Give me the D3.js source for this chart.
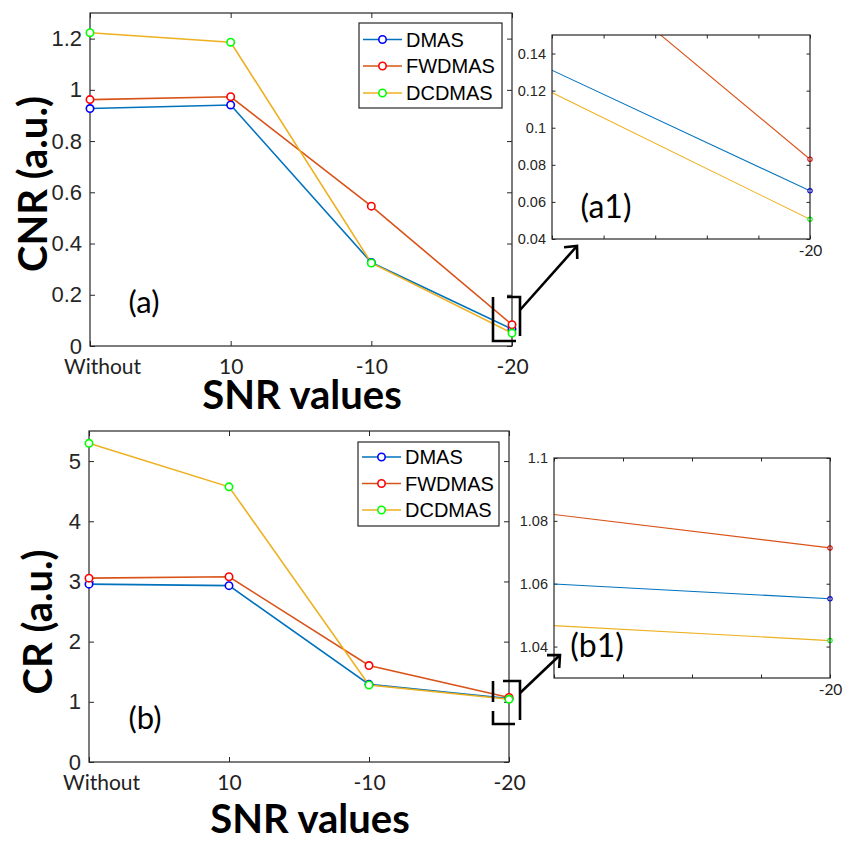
<!DOCTYPE html>
<html>
<head>
<meta charset="utf-8">
<script src="https://cdn.jsdelivr.net/npm/d3@7"></script>
<style>
  html, body { margin: 0; padding: 0; background: #fff; }
  svg { display: block; }
</style>
</head>
<body>
<script>
// ---------------- DATA ----------------
const categories = ["Without", "10", "-10", "-20"];
const seriesNames = ["DMAS", "FWDMAS", "DCDMAS"];

// Panel (a): CNR
const cnrDMAS   = [0.927, 0.941, 0.326, 0.066];
const cnrFWDMAS = [0.962, 0.973, 0.546, 0.083];
const cnrDCDMAS = [1.223, 1.186, 0.324, 0.0506];
const cnrTicks  = [0, 0.2, 0.4, 0.6, 0.8, 1, 1.2];
const cnrZoomTicks = [0.04, 0.06, 0.08, 0.1, 0.12, 0.14];

// Panel (b): CR
const crDMAS   = [2.955, 2.93, 1.29, 1.0552];
const crFWDMAS = [3.055, 3.078, 1.603, 1.0714];
const crDCDMAS = [5.295, 4.572, 1.28, 1.0419];
const crTicks  = [0, 1, 2, 3, 4, 5];
const crZoomTicks = [1.04, 1.06, 1.08, 1.1];

// ---------------- STYLE ----------------
const lineColors   = ["#0072BD", "#D95319", "#EDB120"];
const markerColors = ["#0000FF", "#FF0000", "#00FF00"];
const axisColor = "#262626";
const tickFont = "'Liberation Sans', Arial, Helvetica, sans-serif";
const labelFont = "Lato, 'Open Sans', sans-serif";

const W = 843, H = 844;
const svg = d3.select("body").append("svg")
  .attr("width", W).attr("height", H)
  .attr("viewBox", `0 0 ${W} ${H}`);

const fmt = d => String(+d.toFixed(3));

function drawBox(g, x0, x1, y0, y1) {
  g.append("rect")
    .attr("x", x0).attr("y", y0)
    .attr("width", x1 - x0).attr("height", y1 - y0)
    .attr("fill", "none").attr("stroke", axisColor).attr("stroke-width", 1.2);
}

function styleAxis(sel) {
  sel.select(".domain").remove();
  sel.selectAll(".tick line").attr("stroke", axisColor).attr("stroke-width", 1);
}

function drawPanel(cfg) {
  const g = svg.append("g");
  const { x0, x1, y0, y1 } = cfg.box;
  const x = d3.scaleLinear().domain([0, categories.length - 1]).range([x0, x1]);
  const y = d3.scaleLinear().domain(cfg.yDomain).range([y1, y0]);
  const data = cfg.series;

  // axes (ticks inside)
  const tl = 5;
  const left = g.append("g").attr("transform", `translate(${x0},0)`)
    .call(d3.axisLeft(y).tickValues(cfg.yTicks).tickSize(-tl).tickPadding(8).tickFormat(fmt));
  styleAxis(left);
  left.selectAll("text").attr("font-family", tickFont).attr("font-size", cfg.yTickSize).attr("fill", axisColor);

  const right = g.append("g").attr("transform", `translate(${x1},0)`)
    .call(d3.axisRight(y).tickValues(cfg.yTicks).tickSize(-tl).tickFormat(""));
  styleAxis(right);

  const idx = categories.map((c, i) => i);
  const bottom = g.append("g").attr("transform", `translate(0,${y1})`)
    .call(d3.axisBottom(x).tickValues(idx).tickSize(-tl).tickPadding(13).tickFormat(i => categories[i]));
  styleAxis(bottom);
  bottom.selectAll("text").attr("font-family", labelFont).attr("font-size", 21).attr("fill", "#222")
    .attr("dx", i => i === 0 ? 12 : 0);

  const top = g.append("g").attr("transform", `translate(0,${y0})`)
    .call(d3.axisTop(x).tickValues(idx).tickSize(-tl).tickFormat(""));
  styleAxis(top);

  drawBox(g, x0, x1, y0, y1);

  // lines + markers
  const line = d3.line().x((d, i) => x(i)).y(d => y(d));
  data.forEach((vals, s) => {
    g.append("path").datum(vals)
      .attr("d", line).attr("fill", "none")
      .attr("stroke", lineColors[s]).attr("stroke-width", 1.6);
  });
  data.forEach((vals, s) => {
    g.selectAll(null).data(vals).enter().append("circle")
      .attr("cx", (d, i) => x(i)).attr("cy", d => y(d)).attr("r", 3.7)
      .attr("fill", "#fff").attr("stroke", markerColors[s]).attr("stroke-width", 1.6);
  });

  // legend
  const L = cfg.legend;
  g.append("rect").attr("x", L.x0).attr("y", L.y0)
    .attr("width", L.x1 - L.x0).attr("height", L.y1 - L.y0)
    .attr("fill", "#fff").attr("stroke", axisColor).attr("stroke-width", 1.2);
  seriesNames.forEach((name, s) => {
    const yy = L.rows[s];
    g.append("line").attr("x1", L.x0 + 4).attr("x2", L.x0 + 43).attr("y1", yy).attr("y2", yy)
      .attr("stroke", lineColors[s]).attr("stroke-width", 1.6);
    g.append("circle").attr("cx", L.x0 + 23.5).attr("cy", yy).attr("r", 3.7)
      .attr("fill", "#fff").attr("stroke", markerColors[s]).attr("stroke-width", 1.6);
    g.append("text").attr("x", L.x0 + 47).attr("y", yy).attr("dy", "0.36em")
      .attr("font-family", tickFont).attr("font-size", 20).attr("fill", "#000").text(name);
  });

  // axis titles
  g.append("text")
    .attr("transform", `translate(${cfg.yTitle.x},${cfg.yTitle.y}) rotate(-90)`)
    .attr("text-anchor", "middle").attr("dy", "0.35em")
    .attr("font-family", labelFont).attr("font-weight", 700).attr("font-size", 40)
    .attr("fill", "#000").text(cfg.yTitle.text);
  g.append("text")
    .attr("x", cfg.xTitle.x).attr("y", cfg.xTitle.y)
    .attr("text-anchor", "middle")
    .attr("font-family", labelFont).attr("font-weight", 700).attr("font-size", 40)
    .attr("fill", "#000").text("SNR values");

  // panel tag
  g.append("text").attr("x", cfg.tag.x).attr("y", cfg.tag.y).attr("dy", "0.35em")
    .attr("text-anchor", "middle").attr("font-family", labelFont).attr("font-size", 31)
    .attr("fill", "#000").text(cfg.tag.text);

  // ---- inset ----
  const Z = cfg.inset;
  const gi = svg.append("g");
  const xi = d3.scaleLinear().domain(Z.xDomain).range([Z.x0, Z.x1]);
  const yi = d3.scaleLinear().domain(Z.yDomain).range([Z.y1, Z.y0]);
  const clipId = "clip-" + cfg.id;
  gi.append("clipPath").attr("id", clipId).append("rect")
    .attr("x", Z.x0).attr("y", Z.y0).attr("width", Z.x1 - Z.x0).attr("height", Z.y1 - Z.y0);
  gi.append("rect").attr("x", Z.x0).attr("y", Z.y0).attr("width", Z.x1 - Z.x0).attr("height", Z.y1 - Z.y0)
    .attr("fill", "#fff");

  const til = 3.5;
  const il = gi.append("g").attr("transform", `translate(${Z.x0},0)`)
    .call(d3.axisLeft(yi).tickValues(Z.yTicks).tickSize(-til).tickPadding(6).tickFormat(fmt));
  styleAxis(il);
  il.selectAll("text").attr("font-family", tickFont).attr("font-size", 14.5).attr("fill", axisColor);
  const ir = gi.append("g").attr("transform", `translate(${Z.x1},0)`)
    .call(d3.axisRight(yi).tickValues(Z.yTicks).tickSize(-til).tickFormat(""));
  styleAxis(ir);
  const ib = gi.append("g").attr("transform", `translate(0,${Z.y1})`)
    .call(d3.axisBottom(xi).tickValues(Z.xTicks).tickSize(-til).tickPadding(6)
      .tickFormat(v => Math.abs(v - (categories.length - 1)) < 1e-9 ? categories[categories.length - 1] : ""));
  styleAxis(ib);
  ib.selectAll("text").attr("font-family", labelFont).attr("font-size", 15.5).attr("fill", "#222");
  const it = gi.append("g").attr("transform", `translate(0,${Z.y0})`)
    .call(d3.axisTop(xi).tickValues(Z.xTicks).tickSize(-til).tickFormat(""));
  styleAxis(it);

  const lineI = d3.line().x((d, i) => xi(i)).y(d => yi(d));
  const clipped = gi.append("g").attr("clip-path", `url(#${clipId})`);
  data.forEach((vals, s) => {
    clipped.append("path").datum(vals).attr("d", lineI).attr("fill", "none")
      .attr("stroke", lineColors[s]).attr("stroke-width", 1.1);
  });
  data.forEach((vals, s) => {
    const last = vals.length - 1;
    gi.append("circle").attr("cx", xi(last)).attr("cy", yi(vals[last])).attr("r", 2.2)
      .attr("fill", "#fff").attr("stroke", markerColors[s]).attr("stroke-width", 1.1);
  });
  drawBox(gi, Z.x0, Z.x1, Z.y0, Z.y1);

  gi.append("text").attr("x", Z.tag.x).attr("y", Z.tag.y).attr("dy", "0.35em")
    .attr("text-anchor", "middle").attr("font-family", labelFont).attr("font-size", 32)
    .attr("fill", "#000").text(Z.tag.text);

  // ---- bracket + arrow ----
  const last = categories.length - 1;
  const px = x(last);
  const B = cfg.bracket;
  const ann = svg.append("g").attr("fill", "none").attr("stroke", "#000")
    .attr("stroke-width", 2.6).attr("stroke-linecap", "butt");
  const bx0 = px + B.dl, bx1 = px + B.dr, by0 = B.y0, by1 = B.y1;
  ann.append("path").attr("d", B.leftPath(bx0, bx1, by0, by1));
  ann.append("path").attr("d", B.rightPath(bx0, bx1, by0, by1));

  const A = cfg.arrow;
  ann.append("line").attr("x1", A.sx).attr("y1", A.sy).attr("x2", A.tx).attr("y2", A.ty);
  const ang = Math.atan2(A.ty - A.sy, A.tx - A.sx);
  const hl = 13, ha = Math.PI / 4.2;
  const hx1 = A.tx - hl * Math.cos(ang - ha), hy1 = A.ty - hl * Math.sin(ang - ha);
  const hx2 = A.tx - hl * Math.cos(ang + ha), hy2 = A.ty - hl * Math.sin(ang + ha);
  ann.append("path").attr("d", `M${hx1},${hy1}L${A.tx},${A.ty}L${hx2},${hy2}`)
    .attr("stroke-linejoin", "miter");
}

// ---------------- PANEL (a) ----------------
drawPanel({
  id: "a",
  box: { x0: 90, x1: 512, y0: 13, y1: 346 },
  yDomain: [0, 1.3],
  yTicks: cnrTicks,
  yTickSize: 22,
  series: [cnrDMAS, cnrFWDMAS, cnrDCDMAS],
  legend: { x0: 359, x1: 502, y0: 23, y1: 108, rows: [39.5, 66, 93] },
  yTitle: { x: 33, y: 184, text: "CNR (a.u.)" },
  xTitle: { x: 302, y: 409 },
  tag: { x: 144, y: 302, text: "(a)" },
  inset: {
    x0: 552, x1: 810, y0: 35, y1: 239,
    xDomain: [2.75, 3], yDomain: [0.04, 0.15],
    xTicks: [2.75, 2.8, 2.85, 2.9, 2.95, 3],
    yTicks: cnrZoomTicks,
    tag: { x: 606, y: 207, text: "(a1)" }
  },
  bracket: {
    dl: -19, dr: 8, y0: 297, y1: 341,
    leftPath: (a, b, t, u) => `M${a},${t}L${a},${u}L${b - 4},${u}`,
    rightPath: (a, b, t, u) => `M${a + 14},${t}L${b},${t}L${b},${u - 5}`
  },
  arrow: { sx: 520, sy: 310, tx: 577, ty: 246 }
});

// ---------------- PANEL (b) ----------------
drawPanel({
  id: "b",
  box: { x0: 89, x1: 509, y0: 431, y1: 762 },
  yDomain: [0, 5.5],
  yTicks: crTicks,
  yTickSize: 22,
  series: [crDMAS, crFWDMAS, crDCDMAS],
  legend: { x0: 358, x1: 499, y0: 442, y1: 526, rows: [457, 483.5, 510] },
  yTitle: { x: 38, y: 622, text: "CR (a.u.)" },
  xTitle: { x: 310, y: 833 },
  tag: { x: 145, y: 718, text: "(b)" },
  inset: {
    x0: 554, x1: 830, y0: 458, y1: 678,
    xDomain: [2.98, 3], yDomain: [1.03, 1.1],
    xTicks: [2.98, 2.985, 2.99, 2.995, 3],
    yTicks: crZoomTicks,
    tag: { x: 597, y: 646, text: "(b1)" }
  },
  bracket: {
    dl: -16, dr: 11, y0: 681, y1: 724,
    leftPath: (a, b, t, u) => `M${a},${t}L${a},${t + 21}M${a},${t + 30}L${a},${u}L${b - 5},${u}`,
    rightPath: (a, b, t, u) => `M${a + 10},${t}L${b},${t}L${b},${u - 4}`
  },
  arrow: { sx: 520, sy: 693, tx: 560, ty: 655 }
});
</script>
</body>
</html>
